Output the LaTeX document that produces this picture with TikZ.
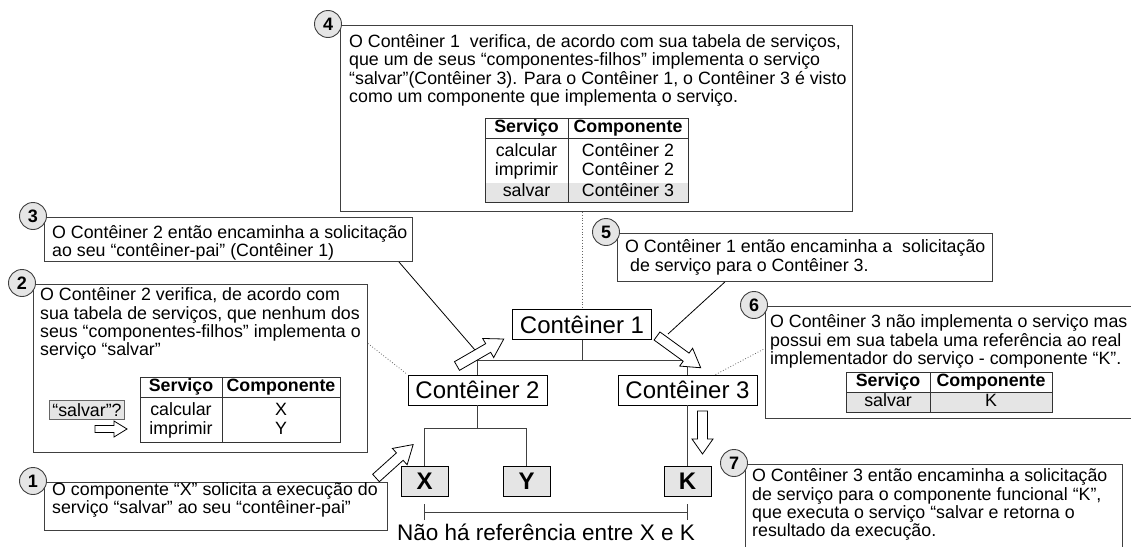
\documentclass[tikz,border=0pt]{standalone}
\usepackage{fontspec}
\setmainfont{Liberation Sans}
\newcommand\bodyf{\fontsize{17.8}{18.3}\selectfont}
\newcommand\hollowarr[7]{%
  \draw[harr, shift={(#1,#2)}, rotate=#3] (0,#5) -- (#4-#7,#5) -- (#4-#7,#6) -- (#4,0) -- (#4-#7,-#6) -- (#4-#7,-#5) -- (0,-#5) -- cycle;}
\definecolor{boxc}{gray}{0.25}
\definecolor{circfill}{gray}{0.9}
\definecolor{shadec}{gray}{0.9}
\definecolor{leaffill}{gray}{0.9}
\begin{document}
\begin{tikzpicture}[x=1pt,y=-1pt,
  box/.style={draw=boxc, line width=0.9pt, anchor=north west, inner sep=0pt},
  num/.style={circle, draw=boxc, line width=0.9pt, fill=circfill, minimum size=27pt, inner sep=0pt, font=\fontsize{18}{18}\selectfont\bfseries},
  txt/.style={anchor=base west, inner sep=0pt, font=\bodyf},
  cell/.style={anchor=base, inner sep=0pt, font=\bodyf},
  hcell/.style={anchor=base, inner sep=0pt, font=\bodyf\bfseries},
  tbl/.style={draw=black!80, line width=0.9pt},
  cont/.style={draw=black, line width=0.9pt, fill=white, minimum width=139pt, minimum height=30pt, inner sep=0pt, font=\fontsize{24}{24}\selectfont},
  leaf/.style={draw=black, line width=0.9pt, fill=leaffill, minimum width=47pt, minimum height=30pt, inner sep=0pt, font=\fontsize{24}{24}\selectfont\bfseries},
  tree/.style={draw=black!75, line width=0.9pt},
  dotl/.style={draw=black!60, line width=0.8pt, dotted},
  harr/.style={draw=black, fill=white, line width=0.8pt, line join=miter},
  thinl/.style={draw=black, line width=0.8pt},
  lbl/.style={draw=black!60, line width=0.7pt, fill=shadec, minimum width=75pt, minimum height=19pt, inner sep=1pt, font=\bodyf},
]
\clip (0,0) rectangle (1131,546);
\fill[white] (0,0) rectangle (1131,546);

% ---------- Box 4 ----------
\node[box, minimum width=512pt, minimum height=186pt] (b4) at (340,25) {};
\node[num] (n4) at (328,24) {4};
\node[txt] (t4a) at (349,47.5) {O Contêiner 1\ \ verifica, de acordo com sua tabela de serviços,};
\node[txt] (t4b) at (349,65.8) {que um de seus “componentes-filhos” implementa o serviço};
\node[txt] (t4c) at (349,84.1) {“salvar”(Contêiner 3). Para o Contêiner 1, o Contêiner 3 é visto};
\node[txt] (t4d) at (349,102.4) {como um componente que implementa o serviço.};
\fill[shadec] (485,183) rectangle (688,202.3);
\draw[tbl] (485,118.3) rectangle (688,202.3);
\draw[tbl] (485,138.3) -- (688,138.3) (568,118.3) -- (568,202.3);
\node[hcell] (h4a) at (526.5,132.7) {Serviço};
\node[hcell] (h4b) at (628,132.7) {Componente};
\node[cell] (r4a) at (526.5,156.7) {calcular};
\node[cell] (r4b) at (526.5,175.5) {imprimir};
\node[cell] (r4c) at (526.5,196.5) {salvar};
\node[cell] (r4d) at (628,156.7) {Contêiner 2};
\node[cell] (r4e) at (628,175.5) {Contêiner 2};
\node[cell] (r4f) at (628,196.5) {Contêiner 3};

% ---------- Box 3 ----------
\node[box, minimum width=368pt, minimum height=44pt] (b3) at (44,217) {};
\node[num] (n3) at (33,216) {3};
\node[txt] (t3a) at (52,238) {O Contêiner 2 então encaminha a solicitação};
\node[txt] (t3b) at (52,256) {ao seu “contêiner-pai” (Contêiner 1)};

% ---------- Box 2 ----------
\node[box, minimum width=334pt, minimum height=168pt] (b2) at (33,284) {};
\node[num] (n2) at (22,283) {2};
\node[txt] (t2a) at (40,300.7) {O Contêiner 2 verifica, de acordo com};
\node[txt] (t2b) at (40,319) {sua tabela de serviços, que nenhum dos};
\node[txt] (t2c) at (40,337.3) {seus “componentes-filhos” implementa o};
\node[txt] (t2d) at (40,355.6) {serviço “salvar”};
\draw[tbl] (140,377) rectangle (340,442);
\draw[tbl] (140,397) -- (340,397) (222,377) -- (222,442);
\node[hcell] (h2a) at (181,391.4) {Serviço};
\node[hcell] (h2b) at (281,391.4) {Componente};
\node[cell] (r2a) at (181,415.4) {calcular};
\node[cell] (r2b) at (181,434.2) {imprimir};
\node[cell] (r2c) at (281,415.4) {X};
\node[cell] (r2d) at (281,434.2) {Y};
\node[lbl] (q2) at (87,410) {“salvar”?};
\hollowarr{95}{429}{0}{32}{3.5}{8}{13}

% ---------- Box 1 ----------
\node[box, minimum width=343pt, minimum height=48pt] (b1) at (44,482) {};
\node[num] (n1) at (33,481) {1};
\node[txt] (t1a) at (52,495) {O componente “X” solicita a execução do};
\node[txt] (t1b) at (52,513.3) {serviço “salvar” ao seu “contêiner-pai”};

% ---------- Box 5 ----------
\node[box, minimum width=375pt, minimum height=48pt] (b5) at (617,233) {};
\node[num] (n5) at (606,232) {5};
\node[txt] (t5a) at (625,252.7) {O Contêiner 1 então encaminha a\ \ solicitação};
\node[txt] (t5b) at (625,271) {\ de serviço para o Contêiner 3.};

% ---------- Box 6 ----------
\node[box, minimum width=400pt, minimum height=112pt] (b6) at (765,306) {};
\node[num] (n6) at (754,305) {6};
\node[txt] (t6a) at (770,327.7) {O Contêiner 3 não implementa o serviço mas};
\node[txt] (t6b) at (770,346) {possui em sua tabela uma referência ao real};
\node[txt] (t6c) at (770,364.3) {implementador do serviço - componente “K”.};
\fill[shadec] (846,392) rectangle (1052,412);
\draw[tbl] (846,372) rectangle (1052,412);
\draw[tbl] (846,392) -- (1052,392) (930,372) -- (930,412);
\node[hcell] (h6a) at (888,386.4) {Serviço};
\node[hcell] (h6b) at (991,386.4) {Componente};
\node[cell] (r6a) at (888,406.2) {salvar};
\node[cell] (r6b) at (991,406.2) {K};

% ---------- Box 7 ----------
\node[box, minimum width=377pt, minimum height=100pt] (b7) at (745,464) {};
\node[num] (n7) at (734,463) {7};
\node[txt] (t7a) at (752,481.7) {O Contêiner 3 então encaminha a solicitação};
\node[txt] (t7b) at (752,500) {de serviço para o componente funcional “K”,};
\node[txt] (t7c) at (752,518.3) {que executa o serviço “salvar e retorna o};
\node[txt] (t7d) at (752,536.6) {resultado da execução.};

% ---------- Tree ----------
\node[cont] (c1) at (582,324.5) {Contêiner 1};
\node[cont] (c2) at (477.5,390) {Contêiner 2};
\node[cont] (c3) at (687.5,390) {Contêiner 3};
\node[leaf] (lx) at (424.5,481) {X};
\node[leaf] (ly) at (526.5,481) {Y};
\node[leaf] (lk) at (687.5,481) {K};
\draw[tree] (c1.south) -- ++(0,20) coordinate (j1);
\draw[tree] (c2.north) |- (j1) -| (c3.north);
\draw[tree] (c2.south) -- ++(0,23) coordinate (j2);
\draw[tree] (lx.north) |- (j2) -| (ly.north);
\draw[tree] (c3.south) -- (lk.north);
\coordinate (bl) at (424.5,512);
\coordinate (br) at (687.5,512);
\draw[tree] (bl) -- (br) ([yshift=8pt]bl) -- ([yshift=-8pt]bl) ([yshift=8pt]br) -- ([yshift=-8pt]br);
\node[anchor=base, inner sep=0pt, font=\fontsize{22.5}{22.5}\selectfont] (note) at (546,540) {Não há referência entre X e K};

% ---------- Dotted links ----------
\draw[dotl] (c1.north |- b4.south) -- (c1.north);
\draw[dotl] ([yshift=25pt]b2.east) -- (c2.north west);
\draw[dotl] ([xshift=28pt]c3.north) -- ([yshift=14pt]b6.west);

% ---------- Thin pointer lines ----------
\coordinate (q3) at (475,350);
\coordinate (q5) at (668,334);
\draw[thinl] ([xshift=-14pt]b3.south east) -- (q3);
\draw[thinl] ([xshift=-80pt]b5.south) -- (q5);

% ---------- Hollow arrows ----------
\hollowarr{457}{366}{30}{54}{5}{11}{18}
\hollowarr{657}{336}{-36}{54}{5}{11}{18}
\hollowarr{376}{478}{42}{50}{5}{11}{18}
\hollowarr{702.5}{411}{-90}{43}{5}{10.5}{15}
\end{tikzpicture}
\end{document}
